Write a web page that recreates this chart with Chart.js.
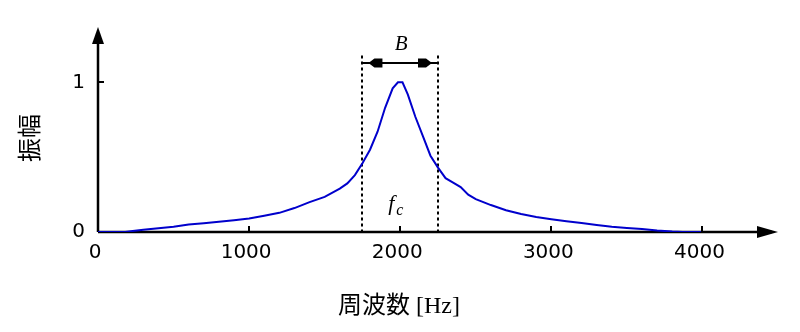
<!DOCTYPE html>
<html>
<head>
<meta charset="utf-8">
<script src="https://cdn.jsdelivr.net/npm/chart.js@4/dist/chart.umd.min.js"></script>
<style>
  html, body { margin: 0; padding: 0; background: #fff; }
  #c { display: block; }
</style>
</head>
<body>
<canvas id="c" width="800" height="332"></canvas>
<script>
// ---- data ----
const freq = [0, 180, 230, 300, 400, 500, 600, 700, 800, 900, 1000, 1100, 1200, 1300, 1400, 1500, 1600, 1650, 1700, 1750, 1800, 1850, 1900, 1950, 1985, 2015, 2050, 2100, 2150, 2200, 2250, 2300, 2350, 2400, 2450, 2500, 2600, 2700, 2800, 2900, 3000, 3100, 3200, 3300, 3400, 3500, 3600, 3700, 3800, 3870, 3990];
const amplitude = [0, 0, 0.007, 0.015, 0.025, 0.035, 0.05, 0.058, 0.068, 0.078, 0.09, 0.108, 0.128, 0.16, 0.2, 0.235, 0.29, 0.325, 0.38, 0.46, 0.55, 0.67, 0.83, 0.96, 1.0, 1.0, 0.92, 0.77, 0.64, 0.51, 0.43, 0.36, 0.33, 0.3, 0.25, 0.22, 0.18, 0.145, 0.12, 0.1, 0.085, 0.072, 0.06, 0.047, 0.035, 0.027, 0.02, 0.01, 0.003, 0, 0];
const xTickValues = [0, 1000, 2000, 3000, 4000];
const yTickValues = [0, 1];
const bandEdges = [1750, 2250];
const centerFreq = 2000;
const xTitle = '周波数 [Hz]';
const yTitle = '振幅';
const bandLabel = 'B';

const points = freq.map((f, i) => ({ x: f, y: amplitude[i] }));

const annot = {
  id: 'annot',
  beforeDatasetsDraw(chart) {
    const ctx = chart.ctx, xs = chart.scales.x, ys = chart.scales.y;
    const x0 = xs.getPixelForValue(0), y0 = ys.getPixelForValue(0);
    const xEnd = xs.right, yTop = ys.top;
    ctx.save();
    ctx.strokeStyle = '#000'; ctx.fillStyle = '#000';
    ctx.lineWidth = 2.5;
    ctx.beginPath();
    ctx.moveTo(x0, y0); ctx.lineTo(xEnd - 6, y0);
    ctx.moveTo(x0, y0); ctx.lineTo(x0, yTop + 6);
    ctx.stroke();
    // arrowheads
    ctx.beginPath();
    ctx.moveTo(x0, yTop); ctx.lineTo(x0 - 6, yTop + 17); ctx.lineTo(x0 + 6, yTop + 17); ctx.closePath();
    ctx.fill();
    ctx.beginPath();
    ctx.moveTo(xEnd, y0); ctx.lineTo(xEnd - 21, y0 - 6); ctx.lineTo(xEnd - 21, y0 + 6); ctx.closePath();
    ctx.fill();
    // tick marks (inward)
    ctx.lineWidth = 2;
    ctx.beginPath();
    xTickValues.forEach(v => { if (v !== 0) { const p = Math.round(xs.getPixelForValue(v)); ctx.moveTo(p, y0); ctx.lineTo(p, y0 - 6); } });
    yTickValues.forEach(v => { if (v !== 0) { const p = Math.round(ys.getPixelForValue(v)); ctx.moveTo(x0, p); ctx.lineTo(x0 + 6, p); } });
    ctx.stroke();
    // dashed band edges
    const yDashTop = ys.getPixelForValue(1.18);
    ctx.setLineDash([3, 3]);
    ctx.lineWidth = 2;
    ctx.beginPath();
    bandEdges.forEach(v => { const p = Math.round(xs.getPixelForValue(v)); ctx.moveTo(p, yDashTop); ctx.lineTo(p, y0); });
    ctx.stroke();
    ctx.setLineDash([]);
    // bandwidth arrow
    const xl = xs.getPixelForValue(bandEdges[0]), xr = xs.getPixelForValue(bandEdges[1]);
    const yb = Math.round(ys.getPixelForValue(1.128));
    ctx.beginPath(); ctx.moveTo(xl, yb); ctx.lineTo(xr, yb); ctx.stroke();
    const head = (tip, dir) => {
      ctx.beginPath();
      ctx.moveTo(tip, yb);
      ctx.lineTo(tip + dir * 6, yb - 4.5);
      ctx.lineTo(tip + dir * 14, yb - 4.5);
      ctx.lineTo(tip + dir * 14, yb + 4.5);
      ctx.lineTo(tip + dir * 6, yb + 4.5);
      ctx.closePath(); ctx.fill();
    };
    head(xl + 6, 1);
    head(xr - 6, -1);
    ctx.restore();
  },
  afterDraw(chart) {
    const ctx = chart.ctx, xs = chart.scales.x, ys = chart.scales.y;
    ctx.save();
    ctx.fillStyle = '#000';
    ctx.textAlign = 'center'; ctx.textBaseline = 'middle';
    // x title
    ctx.font = '24px "Liberation Serif", "Noto Sans CJK JP"';
    ctx.fillText(xTitle, 399, 307);
    // y title rotated
    ctx.save();
    ctx.translate(29, 138);
    ctx.rotate(-Math.PI / 2);
    ctx.font = '24px "Noto Sans CJK JP"';
    ctx.fillText(yTitle, 0, 0);
    ctx.restore();
    // B label
    const xc = xs.getPixelForValue(centerFreq);
    ctx.font = 'italic 21px "Liberation Serif"';
    ctx.textBaseline = 'alphabetic';
    ctx.fillText(bandLabel, xc + 1, 50);
    // f_c
    ctx.textAlign = 'left';
    ctx.font = 'italic 22px "Liberation Serif"';
    ctx.fillText('f', xc - 12, 210);
    ctx.font = 'italic 16px "Liberation Serif"';
    ctx.fillText('c', xc - 4, 215);
    ctx.restore();
  }
};

new Chart(document.getElementById('c'), {
  type: 'line',
  data: {
    datasets: [{
      data: points,
      borderColor: '#0000cc',
      borderWidth: 2,
      pointRadius: 0,
      tension: 0,
      fill: false
    }]
  },
  options: {
    responsive: false,
    devicePixelRatio: 1,
    animation: false,
    layout: { padding: { top: 27, right: 22, left: 0, bottom: 0 } },
    plugins: { legend: { display: false }, tooltip: { enabled: false } },
    scales: {
      x: {
        type: 'linear', min: 0, max: 4500,
        grid: { display: false, drawTicks: false },
        border: { display: false },
        afterFit: s => { s.height = 100; },
        afterBuildTicks: s => { s.ticks = xTickValues.map(v => ({ value: v })); },
        ticks: { color: '#000', font: { family: 'DejaVu Sans', size: 20 }, padding: 9, labelOffset: -3, maxRotation: 0, autoSkip: false, callback: v => String(v) }
      },
      y: {
        type: 'linear', min: 0, max: 1.37,
        grid: { display: false, drawTicks: false },
        border: { display: false },
        afterFit: s => { s.width = 98; },
        afterBuildTicks: s => { s.ticks = yTickValues.map(v => ({ value: v })); },
        ticks: { color: '#000', font: { family: 'DejaVu Sans', size: 20 }, padding: 13, autoSkip: false, callback: v => String(v) }
      }
    }
  },
  plugins: [annot]
});
</script>
</body>
</html>
